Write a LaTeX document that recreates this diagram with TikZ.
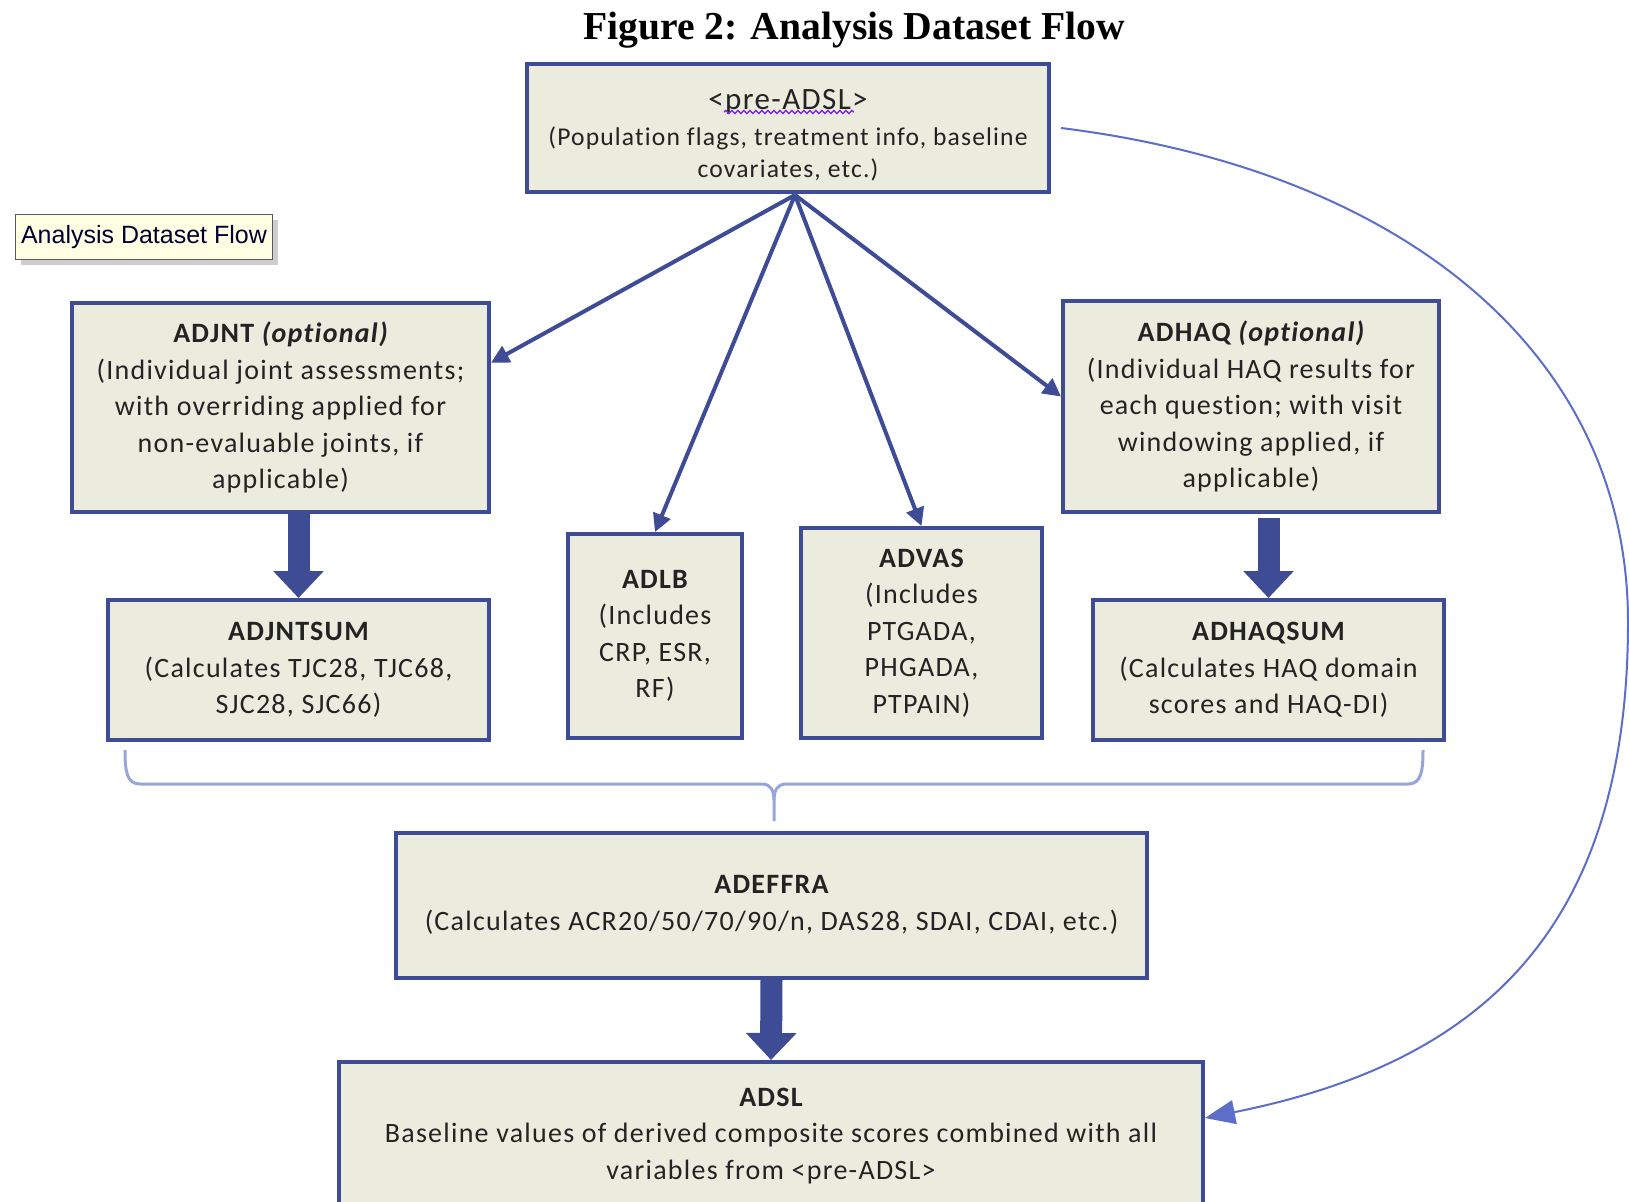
\documentclass[tikz,border=0pt]{standalone}
\usepackage{fontspec}
\setmainfont{Carlito}[LetterSpace=4.5, Ligatures=NoCommon]
\newfontfamily\titlefont{Liberation Serif}
\newfontfamily\notefont{Liberation Sans}
\usetikzlibrary{arrows.meta,shadows,decorations.pathmorphing}
\definecolor{boxblue}{RGB}{62,76,150}
\definecolor{boxfill}{RGB}{235,236,222}
\definecolor{curveblue}{RGB}{92,110,200}
\definecolor{bracecol}{RGB}{150,166,218}
\definecolor{notefill}{RGB}{255,255,228}
\definecolor{textgray}{RGB}{35,35,35}
\definecolor{spellwave}{RGB}{125,45,220}

\begin{document}
\begin{tikzpicture}[x=0.5pt,y=-0.5pt,
    dataset/.style={draw=boxblue, line width=2pt, fill=boxfill, align=center,
        text=textgray, inner sep=0pt, font=\fontsize{14}{18.2}\selectfont},
    flow/.style={draw=boxblue, line width=2pt, -{Triangle[width=9pt,length=9pt]}},
    bigflow/.style={draw=boxblue, line width=11pt, -{Triangle[width=24.5pt,length=13.5pt]}}]

    % Page frame
    \fill[white] (0,0) rectangle (1629,1201);
    \useasboundingbox (0,0) rectangle (1629,1201);

    % Title and note
    \node[font=\titlefont\bfseries\fontsize{19.8}{23}\selectfont] (title) at (854,30)
        {Figure 2: Analysis Dataset Flow};
    \node[draw=gray!70!black, fill=notefill, line width=0.8pt, text=black!80!blue,
        drop shadow={shadow xshift=2.5pt, shadow yshift=-2.5pt, fill=gray!75},
        font=\notefont\fontsize{12.5}{14}\selectfont,
        minimum width=128.5pt, minimum height=22.5pt, inner sep=1pt] (note) at (144,237)
        {Analysis Dataset Flow};

    % Top dataset
    \node[dataset, minimum width=261pt, minimum height=64pt,
        font=\fontsize{12.8}{16}\selectfont] (preadsl) at (788,128)
        {{\fontsize{15.5}{19}\selectfont\rule{0pt}{17pt}<pre-ADSL>}\\[2pt](Population flags, treatment info, baseline\\covariates, etc.)};
    \draw[spellwave, line width=0.7pt, decorate,
        decoration={snake, amplitude=0.8pt, segment length=3pt}] (724,112) -- (854,112);

    % Middle row
    \node[dataset, minimum width=208.5pt, minimum height=104.5pt] (adjnt) at (280.5,407.5)
        {{\bfseries ADJNT \itshape(optional)}\\(Individual joint assessments;\\with overriding applied for\\non-evaluable joints, if\\applicable)};
    \node[dataset, minimum width=188pt, minimum height=105.5pt] (adhaq) at (1251,406.5)
        {{\bfseries ADHAQ \itshape(optional)}\\(Individual HAQ results for\\each question; with visit\\windowing applied, if\\applicable)};

    % Lower row
    \node[dataset, minimum width=190.5pt, minimum height=70pt] (adjntsum) at (298.5,670)
        {\bfseries ADJNTSUM\\(Calculates TJC28, TJC68,\\SJC28, SJC66)};
    \node[dataset, minimum width=87pt, minimum height=102pt] (adlb) at (655,636)
        {\bfseries ADLB\\(Includes\\CRP, ESR,\\RF)};
    \node[dataset, minimum width=120.5pt, minimum height=105pt] (advas) at (921.5,633)
        {\bfseries ADVAS\\(Includes\\PTGADA,\\PHGADA,\\PTPAIN)};
    \node[dataset, minimum width=175.5pt, minimum height=70pt] (adhaqsum) at (1268.5,670)
        {\bfseries ADHAQSUM\\(Calculates HAQ domain\\scores and HAQ-DI)};

    % Bottom datasets
    \node[dataset, minimum width=375.5pt, minimum height=72.5pt] (adeffra) at (771.5,905)
        {\bfseries ADEFFRA\\(Calculates ACR20/50/70/90/n, DAS28, SDAI, CDAI, etc.)};
    \node[dataset, minimum width=432pt, minimum height=74pt] (adsl) at (771,1136)
        {\bfseries ADSL\\Baseline values of derived composite scores combined with all\\variables from <pre-ADSL>};

    % Arrows out of pre-ADSL
    \coordinate (hub) at (795,195);
    \draw[flow] (hub) -- (adjnt.12);
    \draw[flow] (hub) -- (adlb.north);
    \draw[flow] (hub) -- (advas.north);
    \draw[flow] (hub) -- (adhaq.177);

    % Block arrows
    \draw[bigflow] (adjnt.south -| adjntsum.north) -- (adjntsum.north);
    \draw[bigflow, shorten <=2pt] (adhaq.south -| adhaqsum.north) -- (adhaqsum.north);
    \draw[bigflow] (adeffra.south) -- (adsl.north);

    % Brace over the lower row
    \draw[bracecol, line width=1.5pt] (125,750) .. controls (125,772) and (127,784) .. (140,784)
        -- (762,784) .. controls (771,784) and (774,791) .. (774,800) -- (774,821);
    \draw[bracecol, line width=1.5pt] (774,800) .. controls (774,791) and (777,784) .. (786,784)
        -- (1408,784) .. controls (1421,784) and (1423,772) .. (1423,750);

    % Long curve to ADSL
    \draw[curveblue, line width=1pt, -{Triangle[width=12pt,length=15pt]}]
        ([xshift=5pt]preadsl.east) .. controls (1400,170) and (1628,351) .. (1628,622)
        .. controls (1628,940) and (1470,1065) .. ([yshift=9pt]adsl.east);
\end{tikzpicture}
\end{document}
